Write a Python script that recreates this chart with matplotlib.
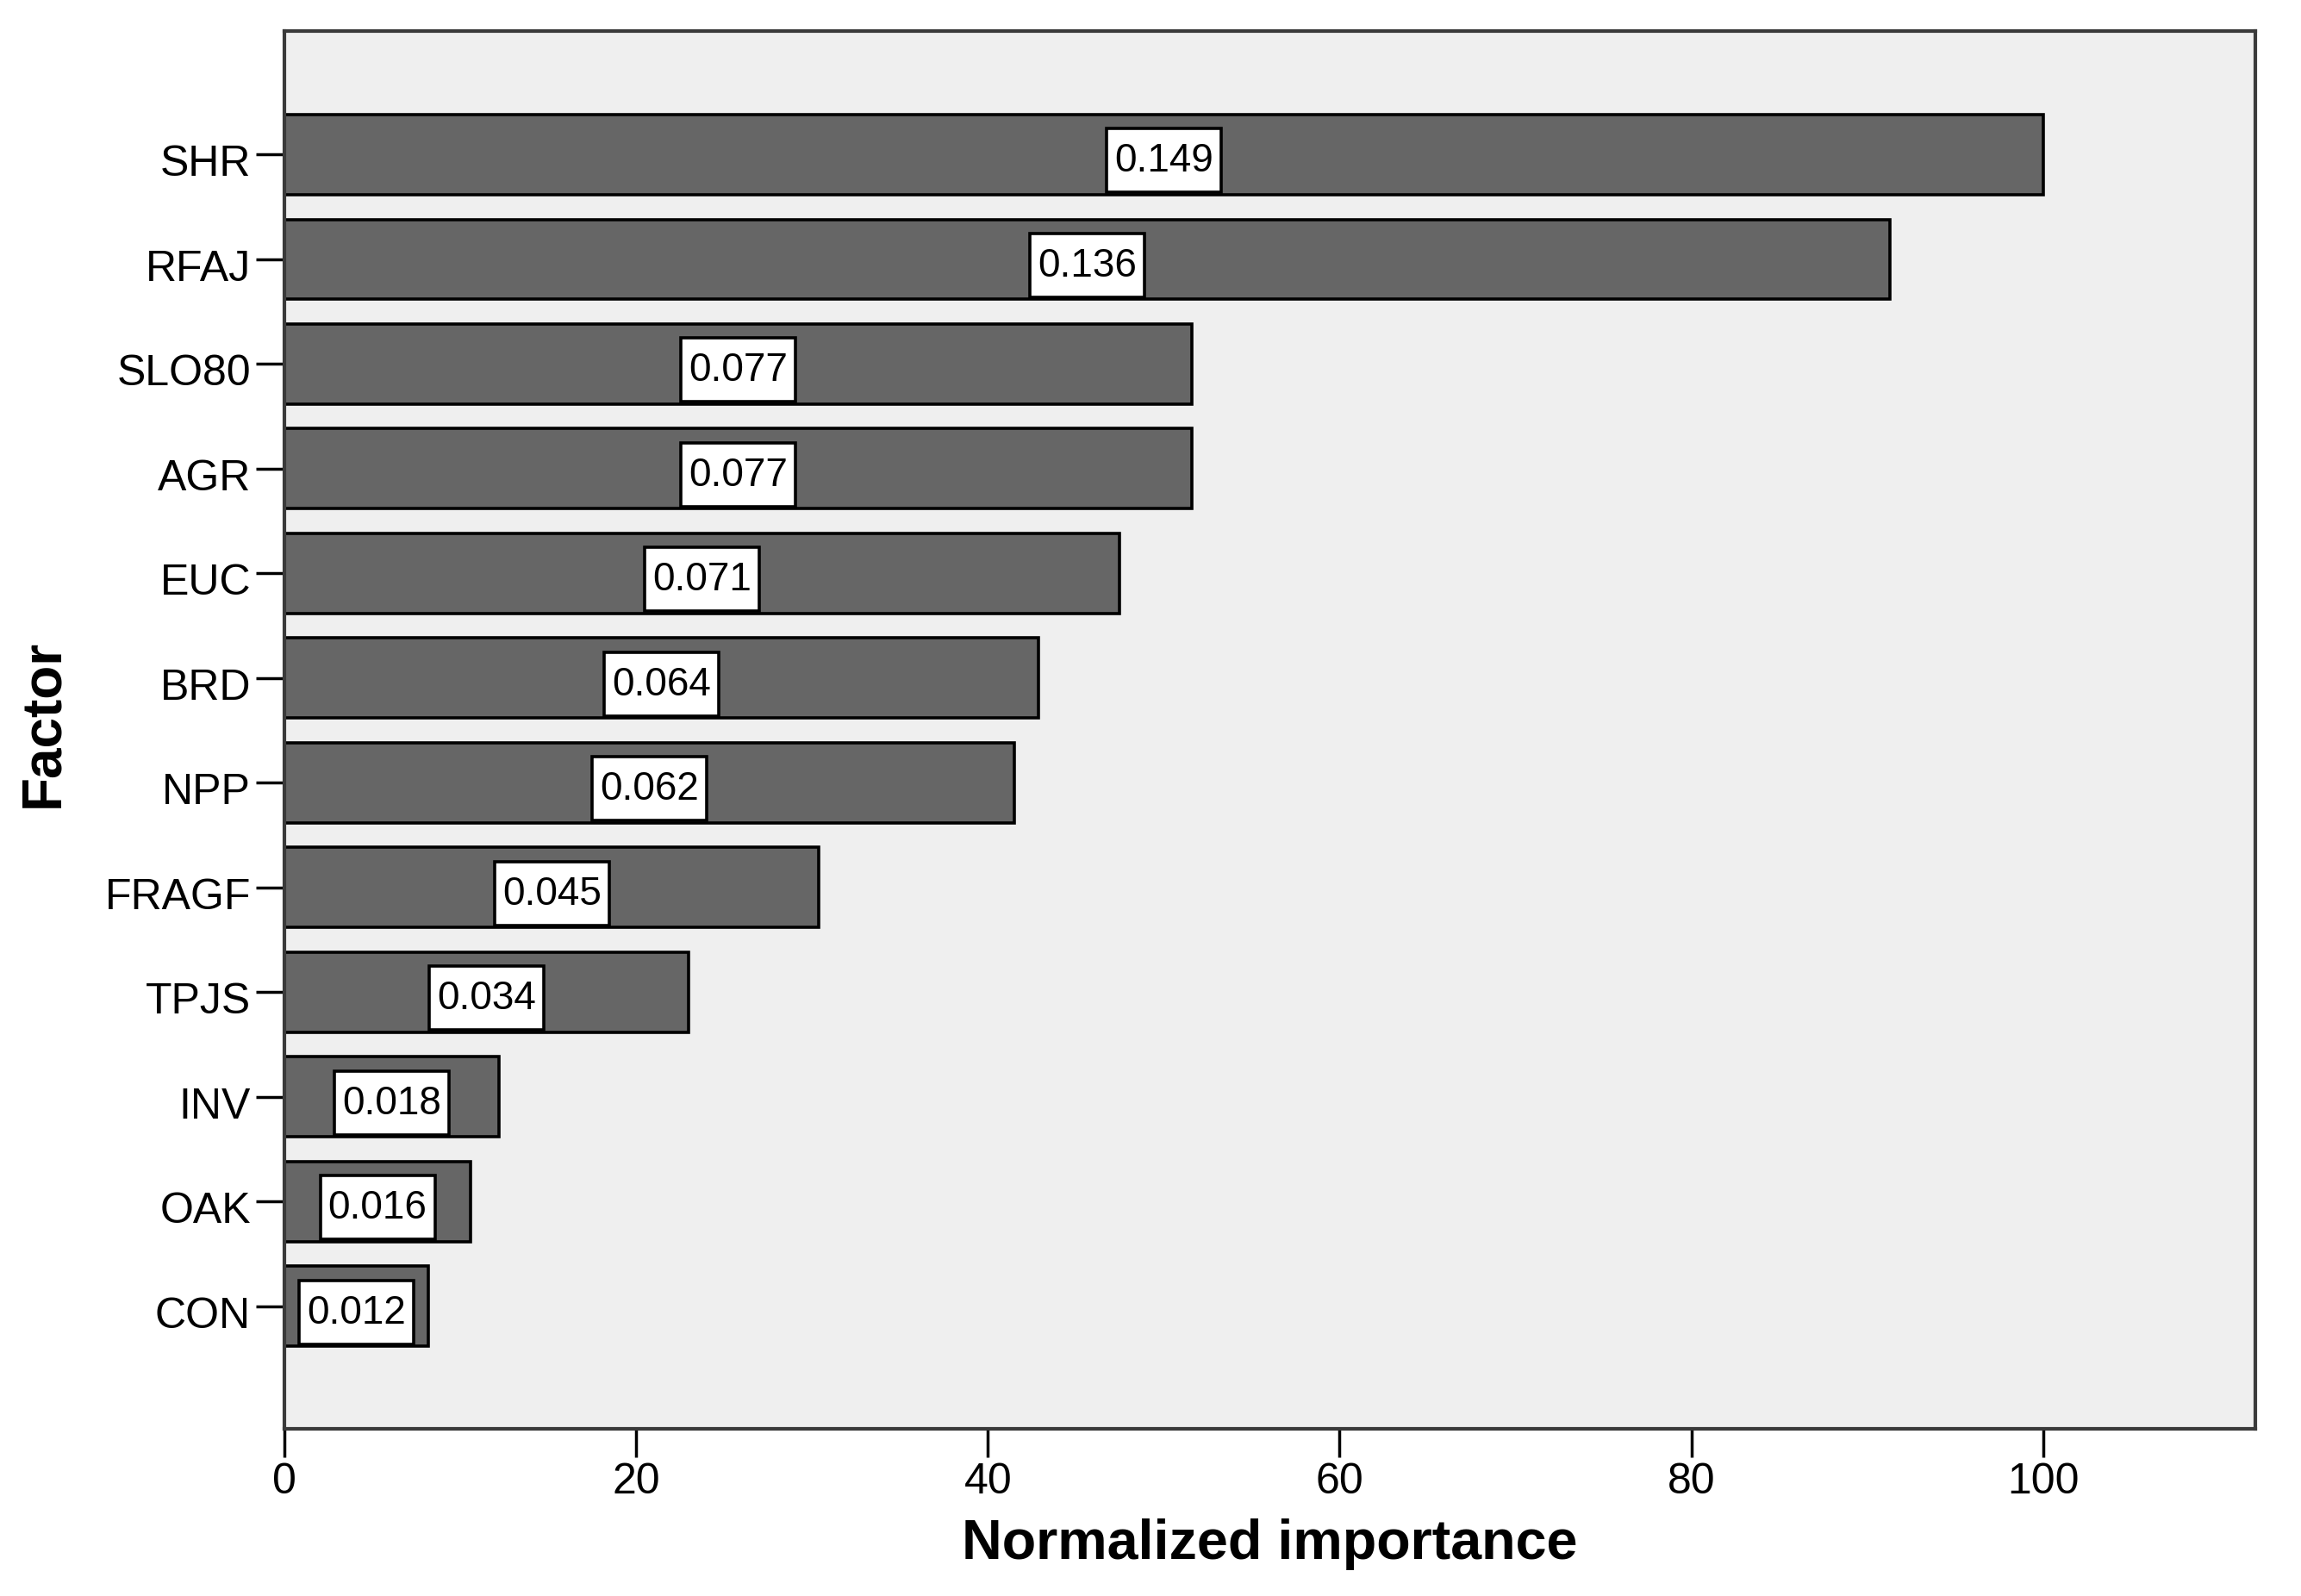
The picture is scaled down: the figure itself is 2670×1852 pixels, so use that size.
import matplotlib.pyplot as plt
from matplotlib.patches import Rectangle
from matplotlib.transforms import ScaledTranslation
import numpy as np

plt.rcParams['font.family'] = ['Liberation Sans', 'DejaVu Sans']

# factors, top to bottom
factors = ['SHR', 'RFAJ', 'SLO80', 'AGR', 'EUC', 'BRD', 'NPP', 'FRAGF', 'TPJS', 'INV', 'OAK', 'CON']
# normalized importance (%)
norm_importance = [100.0, 91.3, 51.6, 51.6, 47.5, 42.9, 41.5, 30.4, 23.0, 12.2, 10.6, 8.2]
# raw importance shown in the boxes
importance = ['0.149', '0.136', '0.077', '0.077', '0.071', '0.064', '0.062', '0.045', '0.034', '0.018', '0.016', '0.012']

fig = plt.figure(figsize=(26.7, 18.52), dpi=100)
ax = fig.add_axes([0.1236, 0.1047, 0.8565, 0.8758])
ax.set_facecolor('#efefef')

y = np.arange(len(factors))
ax.barh(y, norm_importance, height=0.765, color='#666666', edgecolor='black', linewidth=2.6)

ax.set_xlim(0, 112.06)
ax.set_ylim(12.17, -1.18)
ax.set_yticks(y)
ax.set_yticklabels(factors)
ax.set_xticks([0, 20, 40, 60, 80, 100])

# value labels in the middle of each bar, box sits a bit low in the bar
texts = []
for yi, v, lab in zip(y, norm_importance, importance):
    t = ax.text(v / 2, yi + 0.065, lab, ha='center', va='center', fontsize=33, zorder=4)
    texts.append(t)

ax.tick_params(axis='both', direction='out', length=24, width=2.5, color='black', labelsize=36, pad=4)
for s in ax.spines.values():
    s.set_color('#3a3a3a')
    s.set_linewidth(3)

# factor names sit slightly below their tick
shift = ScaledTranslation(0, -0.07, fig.dpi_scale_trans)
for lbl in ax.get_yticklabels():
    lbl.set_transform(lbl.get_transform() + shift)

fig.canvas.draw()
inv = ax.transData.inverted()
for t, yi in zip(texts, y):
    bb = t.get_window_extent()
    x0 = inv.transform((bb.x0 - 9, 0))[0]
    x1 = inv.transform((bb.x1 + 9, 0))[0]
    ax.add_patch(Rectangle((x0, yi + 0.055 - 0.305), x1 - x0, 0.61, facecolor='white',
                           edgecolor='black', linewidth=2.6, zorder=3))

ax.set_xlabel('Normalized importance', fontsize=46.5, fontweight='bold', labelpad=14)
ax.set_ylabel('Factor', fontsize=46, fontweight='bold')
ax.yaxis.set_label_coords(-0.109, 0.505)

fig.savefig('out.png', dpi=100, facecolor='white')
